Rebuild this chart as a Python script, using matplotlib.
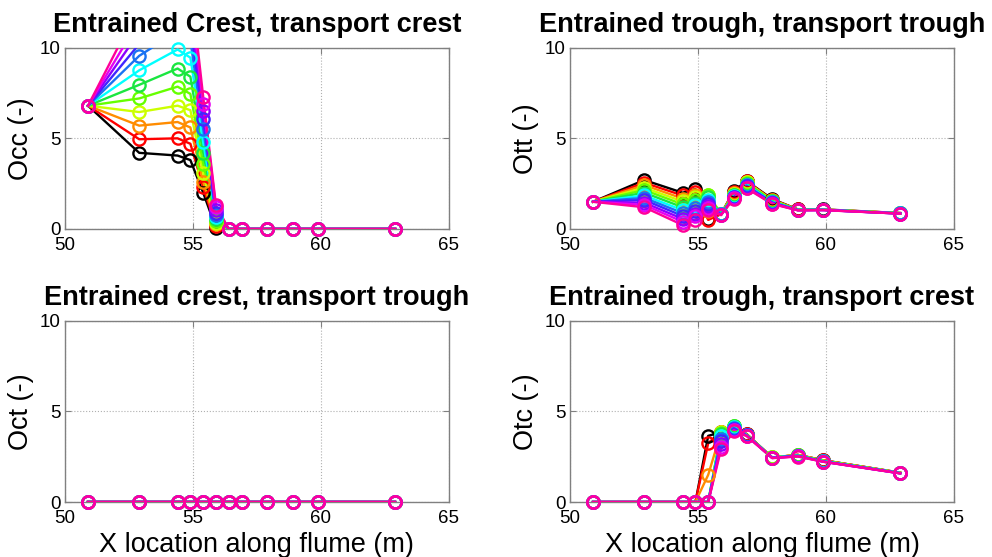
import numpy as np
import matplotlib
matplotlib.use("Agg")
import matplotlib.pyplot as plt

plt.rcParams['font.family'] = ['Liberation Sans', 'DejaVu Sans']

# Measurement stations along the flume (m)
x_loc = [50.9, 52.9, 54.4, 54.9, 55.4, 55.9, 56.4, 56.9, 57.9, 58.9, 59.9, 62.9]

# One colour per run, drawn in this order
run_colors = [
    (0.00, 0.00, 0.00),  # black
    (1.00, 0.00, 0.00),  # red
    (1.00, 0.55, 0.00),  # orange
    (0.80, 1.00, 0.00),  # yellow-green
    (0.40, 1.00, 0.00),  # lime
    (0.10, 0.90, 0.25),  # green
    (0.00, 1.00, 1.00),  # cyan
    (0.10, 0.45, 0.95),  # blue
    (0.25, 0.15, 1.00),  # indigo
    (0.55, 0.00, 1.00),  # violet
    (0.90, 0.00, 0.95),  # magenta
    (1.00, 0.00, 0.60),  # pink
]

# Entrained crest, transport crest
occ = [
    [6.8, 4.20, 4.05, 3.80, 2.00, 0.05, 0, 0, 0, 0, 0, 0],
    [6.8, 4.95, 5.00, 4.70, 2.30, 0.15, 0, 0, 0, 0, 0, 0],
    [6.8, 5.70, 5.90, 5.60, 2.60, 0.25, 0, 0, 0, 0, 0, 0],
    [6.8, 6.45, 6.80, 6.55, 3.10, 0.35, 0, 0, 0, 0, 0, 0],
    [6.8, 7.20, 7.85, 7.45, 3.60, 0.45, 0, 0, 0, 0, 0, 0],
    [6.8, 7.95, 8.85, 8.40, 4.20, 0.55, 0, 0, 0, 0, 0, 0],
    [6.8, 8.75, 9.90, 9.45, 4.80, 0.65, 0, 0, 0, 0, 0, 0],
    [6.8, 9.55, 10.9, 10.4, 5.50, 0.75, 0, 0, 0, 0, 0, 0],
    [6.8, 10.2, 11.9, 11.2, 6.05, 0.90, 0, 0, 0, 0, 0, 0],
    [6.8, 10.85, 12.9, 12.0, 6.50, 1.05, 0, 0, 0, 0, 0, 0],
    [6.8, 11.5, 13.9, 12.8, 6.90, 1.20, 0, 0, 0, 0, 0, 0],
    [6.8, 12.3, 14.9, 13.6, 7.30, 1.30, 0, 0, 0, 0, 0, 0],
]

# Entrained trough, transport trough
ott = [
    [1.5, 2.70, 2.00, 2.20, 0.55, 0.82, 2.10, 2.65, 1.65, 1.08, 1.08, 0.88],
    [1.5, 2.55, 1.85, 2.05, 0.50, 0.82, 2.05, 2.62, 1.62, 1.08, 1.07, 0.88],
    [1.5, 2.42, 1.68, 1.90, 1.00, 0.82, 2.00, 2.60, 1.60, 1.07, 1.07, 0.87],
    [1.5, 2.28, 1.52, 1.75, 1.90, 0.85, 1.95, 2.58, 1.57, 1.07, 1.07, 0.87],
    [1.5, 2.15, 1.36, 1.60, 1.85, 0.85, 1.90, 2.55, 1.55, 1.06, 1.06, 0.87],
    [1.5, 2.00, 1.20, 1.45, 1.75, 0.82, 1.85, 2.50, 1.52, 1.06, 1.06, 0.86],
    [1.5, 1.85, 1.04, 1.30, 1.62, 0.80, 1.82, 2.45, 1.50, 1.05, 1.06, 0.86],
    [1.5, 1.72, 0.88, 1.15, 1.50, 0.80, 1.78, 2.40, 1.47, 1.05, 1.05, 0.86],
    [1.5, 1.60, 0.72, 1.00, 1.38, 0.78, 1.75, 2.35, 1.45, 1.04, 1.05, 0.85],
    [1.5, 1.45, 0.56, 0.85, 1.26, 0.77, 1.72, 2.30, 1.42, 1.04, 1.05, 0.85],
    [1.5, 1.33, 0.40, 0.70, 1.15, 0.77, 1.70, 2.27, 1.40, 1.03, 1.04, 0.85],
    [1.5, 1.20, 0.22, 0.50, 1.05, 0.77, 1.68, 2.24, 1.38, 1.03, 1.04, 0.85],
]

# Entrained crest, transport trough
oct_ = [
    [0, 0, 0, 0, 0, 0, 0, 0, 0, 0, 0, 0],
    [0, 0, 0, 0, 0, 0, 0, 0, 0, 0, 0, 0],
    [0, 0, 0, 0, 0, 0, 0, 0, 0, 0, 0, 0],
    [0, 0, 0, 0, 0, 0, 0, 0, 0, 0, 0, 0],
    [0, 0, 0, 0, 0, 0, 0, 0, 0, 0, 0, 0],
    [0, 0, 0, 0, 0, 0, 0, 0, 0, 0, 0, 0],
    [0, 0, 0, 0, 0, 0, 0, 0, 0, 0, 0, 0],
    [0, 0, 0, 0, 0, 0, 0, 0, 0, 0, 0, 0],
    [0, 0, 0, 0, 0, 0, 0, 0, 0, 0, 0, 0],
    [0, 0, 0, 0, 0, 0, 0, 0, 0, 0, 0, 0],
    [0, 0, 0, 0, 0, 0, 0, 0, 0, 0, 0, 0],
    [0, 0, 0, 0, 0, 0, 0, 0, 0, 0, 0, 0],
]

# Entrained trough, transport crest
otc = [
    [0, 0, 0, 0, 3.65, 3.85, 4.05, 3.75, 2.45, 2.60, 2.30, 1.62],
    [0, 0, 0, 0, 3.25, 3.85, 4.10, 3.75, 2.45, 2.60, 2.30, 1.62],
    [0, 0, 0, 0, 1.50, 3.85, 4.15, 3.72, 2.46, 2.60, 2.29, 1.61],
    [0, 0, 0, 0, 0.00, 3.85, 4.20, 3.72, 2.46, 2.59, 2.28, 1.61],
    [0, 0, 0, 0, 0.00, 3.80, 4.22, 3.71, 2.46, 2.58, 2.27, 1.60],
    [0, 0, 0, 0, 0.00, 3.75, 4.20, 3.70, 2.45, 2.57, 2.26, 1.60],
    [0, 0, 0, 0, 0.00, 3.65, 4.15, 3.70, 2.45, 2.56, 2.25, 1.60],
    [0, 0, 0, 0, 0.00, 3.50, 4.10, 3.68, 2.44, 2.55, 2.24, 1.59],
    [0, 0, 0, 0, 0.00, 3.35, 4.05, 3.67, 2.44, 2.54, 2.23, 1.59],
    [0, 0, 0, 0, 0.00, 3.20, 4.00, 3.66, 2.43, 2.53, 2.23, 1.58],
    [0, 0, 0, 0, 0.00, 3.05, 3.95, 3.65, 2.43, 2.52, 2.22, 1.58],
    [0, 0, 0, 0, 0.00, 2.90, 3.90, 3.65, 2.42, 2.51, 2.22, 1.58],
]

panels = [
    (occ, "Entrained Crest, transport crest", "Occ (-)"),
    (ott, "Entrained trough, transport trough", "Ott (-)"),
    (oct_, "Entrained crest, transport trough", "Oct (-)"),
    (otc, "Entrained trough, transport crest", "Otc (-)"),
]

x_ticks = [50, 55, 60, 65]
y_ticks = [0, 5, 10]
y_max = 10

fig = plt.figure(figsize=(9.92, 5.57), dpi=100)
ax_w, ax_h = 0.387, 0.3255
lefts = [0.0655, 0.5746]
bottoms = [0.5889, 0.0987]

for k, (values, title, ylabel) in enumerate(panels):
    row, col = divmod(k, 2)
    ax = fig.add_axes([lefts[col], bottoms[row], ax_w, ax_h])
    x = np.asarray(x_loc)
    for series, color in zip(values, run_colors):
        y = np.asarray(series, dtype=float)
        ax.plot(x, y, '-', color=color, lw=1.7, zorder=3)
        ym = np.ma.masked_greater(y, y_max)
        ax.plot(x, ym, 'o', mfc='none', mec=color, ms=8.8, mew=1.7,
                clip_on=False, zorder=4)
    ax.set_xlim(50, 65)
    ax.set_ylim(0, y_max)
    ax.set_xticks(x_ticks)
    ax.set_yticks(y_ticks)
    ax.grid(True, linestyle=':', color='#b0b0b0', lw=0.8)
    ax.tick_params(direction='in', top=True, right=True, length=4,
                   color='#808080', labelsize=13.5)
    ax.tick_params(axis='x', pad=6)
    ax.tick_params(axis='y', pad=3)
    for sp in ax.spines.values():
        sp.set_color('#808080')
        sp.set_linewidth(1.0)
    ax.set_title(title, fontsize=19.5, fontweight='bold', pad=11)
    ax.set_ylabel(ylabel, fontsize=19.5, labelpad=4)
    if row == 1:
        ax.set_xlabel("X location along flume (m)", fontsize=19.5, labelpad=3)

fig.savefig("out.png", dpi=100)
